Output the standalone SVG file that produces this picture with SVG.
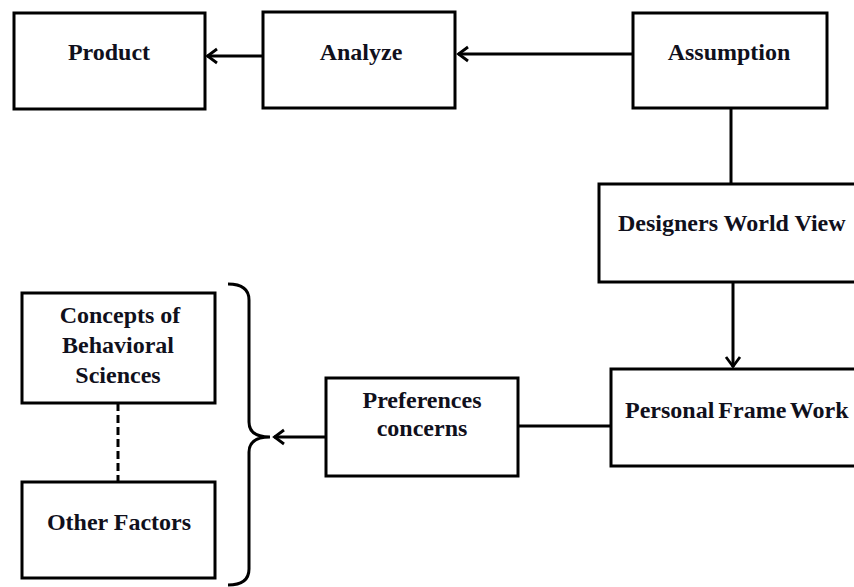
<svg xmlns="http://www.w3.org/2000/svg" width="854" height="587" viewBox="0 0 854 587" font-family="Liberation Serif, 'Times New Roman', serif">
  <style>
    .box { fill: #ffffff; stroke: #000000; stroke-width: 3; }
    .lbl { font-weight: bold; font-size: 24px; fill: #10101c; }
    .mid { text-anchor: middle; }
    .wire { fill: none; stroke: #000000; stroke-width: 3; }
  </style>
  <defs>
    <!-- open chevron arrowhead -->
    <marker id="chev" viewBox="0 0 16 18" refX="14" refY="9" markerWidth="16" markerHeight="18" markerUnits="userSpaceOnUse" orient="auto">
      <path d="M4,2 L13.5,9 L4,16" fill="none" stroke="#000000" stroke-width="2.8"/>
    </marker>
  </defs>

  <rect width="854" height="587" fill="#ffffff"/>

  <g id="connectors">
    <line class="wire" x1="263" y1="56" x2="207" y2="56" marker-end="url(#chev)"/>
    <line class="wire" x1="633" y1="54" x2="458" y2="54" marker-end="url(#chev)"/>
    <line class="wire" x1="731" y1="108" x2="731" y2="184"/>
    <line class="wire" x1="733" y1="282" x2="733" y2="367" marker-end="url(#chev)"/>
    <line class="wire" x1="518" y1="426" x2="611" y2="426"/>
    <line class="wire" x1="326" y1="437" x2="274" y2="437" marker-end="url(#chev)"/>
    <line class="wire" x1="118" y1="403" x2="118" y2="482" stroke-dasharray="8,4"/>
    <!-- curly brace gathering the two factor boxes -->
    <path class="wire" d="M228,284 Q249,284 249,300 L249,422 Q249,437 270,437 Q249,437 249,452 L249,569 Q249,585 228,585"/>
  </g>

  <g id="product">
    <rect class="box" x="14" y="13" width="191" height="96"/>
    <text class="lbl mid" x="109" y="60">Product</text>
  </g>
  <g id="analyze">
    <rect class="box" x="263" y="12" width="192" height="96"/>
    <text class="lbl mid" x="361" y="60">Analyze</text>
  </g>
  <g id="assumption">
    <rect class="box" x="633" y="13" width="194" height="95"/>
    <text class="lbl mid" x="729" y="60">Assumption</text>
  </g>
  <g id="designers-world-view">
    <rect class="box" x="599" y="184" width="270" height="98"/>
    <text class="lbl" x="618" y="231">Designers World View</text>
  </g>
  <g id="personal-frame-work">
    <rect class="box" x="611" y="369" width="260" height="97"/>
    <text class="lbl" x="625" y="418" word-spacing="-2">Personal Frame Work</text>
  </g>
  <g id="preferences-concerns">
    <rect class="box" x="326" y="378" width="192" height="98"/>
    <text class="lbl mid" x="422" y="408">Preferences</text>
    <text class="lbl mid" x="422" y="436">concerns</text>
  </g>
  <g id="concepts-behavioral-sciences">
    <rect class="box" x="22" y="293" width="193" height="110"/>
    <text class="lbl mid" x="120" y="323">Concepts of</text>
    <text class="lbl mid" x="118" y="353">Behavioral</text>
    <text class="lbl mid" x="118" y="383">Sciences</text>
  </g>
  <g id="other-factors">
    <rect class="box" x="22" y="482" width="193" height="96"/>
    <text class="lbl mid" x="119" y="530">Other Factors</text>
  </g>
</svg>
